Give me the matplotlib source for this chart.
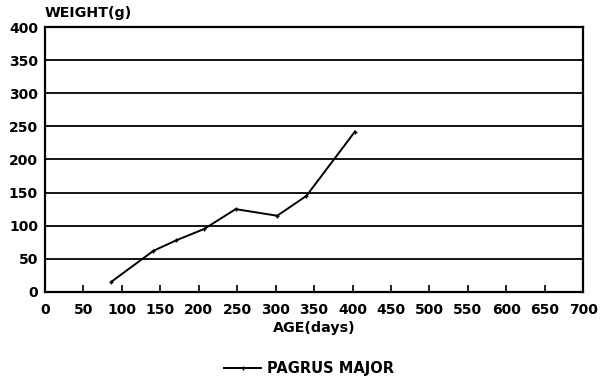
import matplotlib.pyplot as plt

age = [86, 141, 171, 207, 248, 302, 340, 403]
weight = [15, 62, 78, 95, 125, 115, 145, 242]
xticks = list(range(0, 701, 50))
yticks = list(range(0, 401, 50))

plt.rcParams['font.family'] = ['DejaVu Sans']
plt.rcParams['font.weight'] = 'bold'

fig = plt.figure(figsize=(6, 3.82), dpi=100)
ax = fig.add_axes([0.075, 0.236, 0.897, 0.693])

line, = ax.plot(age, weight, color='black', lw=1.4, marker='+', ms=3, mew=1)

ax.set_xlim(0, 700)
ax.set_ylim(0, 400)
ax.set_xticks(xticks)
ax.set_yticks(yticks)
ax.set_xticklabels([str(t) for t in xticks])
ax.tick_params(axis='x', direction='in', length=5, width=1.2, labelsize=10, pad=8)
ax.tick_params(axis='y', length=0, labelsize=10, pad=5)
ax.grid(axis='y', color='black', lw=1.3)
for s in ax.spines.values():
    s.set_linewidth(1.6)

fig.text(0.075, 0.965, 'WEIGHT(g)', fontsize=10.3, fontweight='bold', ha='left', va='center')
ax.set_xlabel('AGE(days)', fontsize=10.3, fontweight='bold', labelpad=3)

fig.legend([line], ['PAGRUS MAJOR'], loc='center', bbox_to_anchor=(0.515, 0.035),
           frameon=False, fontsize=10.5, handlelength=2.5, handletextpad=0.4)

fig.savefig('out.png', dpi=100)
